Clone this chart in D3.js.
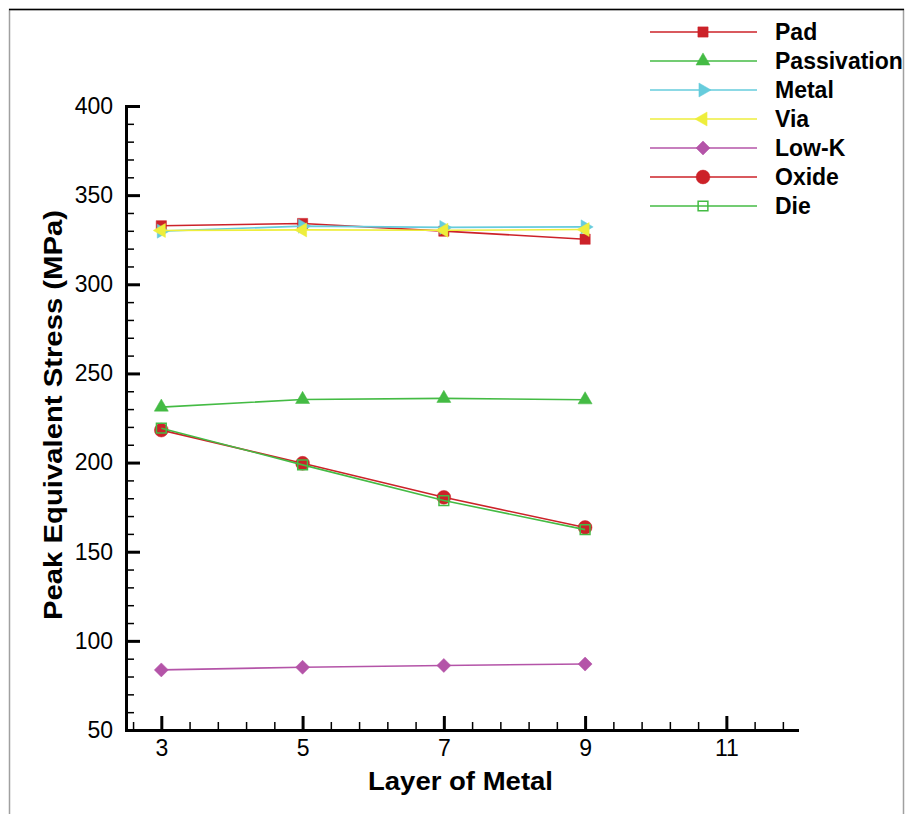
<!DOCTYPE html>
<html>
<head>
<meta charset="utf-8">
<script src="https://cdn.jsdelivr.net/npm/d3@7"></script>
<style>
  body { margin: 0; background: #fff; }
  svg { display: block; }
</style>
</head>
<body>
<script>
// Data
const layers = [3, 5, 7, 9];
const seriesNames = ["Pad", "Passivation", "Metal", "Via", "Low-K", "Oxide", "Die"];
const pad = [332.8, 334.1, 329.8, 325.3];
const passivation = [231.1, 235.4, 236.0, 235.2];
const metal = [329.8, 332.6, 331.9, 332.2];
const via = [330.2, 330.5, 330.3, 330.7];
const lowK = [83.7, 85.2, 86.2, 87.0];
const oxide = [218.2, 199.6, 180.5, 163.6];
const die = [219.3, 198.7, 178.7, 162.4];
const xMajorTicks = [3, 5, 7, 9, 11];
const yMajorTicks = [50, 100, 150, 200, 250, 300, 350, 400];

const width = 905;
const height = 814;
const font = "'Liberation Sans', Arial, Helvetica, sans-serif";

const styles = [
  { color: "#cc2229", symbol: d3.symbolSquare, size: 105, rotate: 0, fill: true },
  { color: "#44bb44", symbol: d3.symbolTriangle, size: 85, rotate: 0, fill: true },
  { color: "#66ccdc", symbol: d3.symbolTriangle, size: 85, rotate: 90, fill: true },
  { color: "#eeee3c", symbol: d3.symbolTriangle, size: 85, rotate: -90, fill: true },
  { color: "#b454a8", symbol: d3.symbolSquare, size: 98, rotate: 45, fill: true },
  { color: "#cc2229", symbol: d3.symbolCircle, size: 150, rotate: 0, fill: true },
  { color: "#44bb44", symbol: d3.symbolSquare, size: 95, rotate: 0, fill: false }
];
const allValues = [pad, passivation, metal, via, lowK, oxide, die];
const series = seriesNames.map((name, i) => ({
  name,
  values: layers.map((l, j) => ({ x: l, y: allValues[i][j] })),
  ...styles[i]
}));

// Scales
const xScale = d3.scaleLinear().domain([2.5, 12]).range([126, 797]);
const yScale = d3.scaleLinear().domain([50, 400]).range([730, 106]);

const xMinor = d3.range(2.6, 12, 0.4).filter((v) => !xMajorTicks.some((m) => Math.abs(m - v) < 1e-6));
const yMinor = d3.range(60, 400, 10).filter((v) => v % 50 !== 0);

const svg = d3
  .select("body")
  .append("svg")
  .attr("width", width)
  .attr("height", height);

// Frame (top, left, right edges)
svg.append("path")
  .attr("d", "M9.5,814V9.5H903.5V814")
  .attr("fill", "none")
  .attr("stroke", "#a0a0a0")
  .attr("stroke-width", 1.5);
svg.append("line")
  .attr("x1", 9).attr("x2", 904)
  .attr("y1", 9.5).attr("y2", 9.5)
  .attr("stroke", "#000")
  .attr("stroke-width", 1.5);

// Minor ticks
svg.append("g")
  .attr("transform", `translate(${xScale.range()[0]},0)`)
  .call(d3.axisLeft(yScale).tickValues(yMinor).tickSize(-8).tickFormat(""))
  .call((g) => g.select(".domain").remove())
  .call((g) => g.selectAll("line").attr("stroke-width", 1.5));
svg.append("g")
  .attr("transform", `translate(0,${yScale.range()[0]})`)
  .call(d3.axisBottom(xScale).tickValues(xMinor).tickSize(-8).tickFormat(""))
  .call((g) => g.select(".domain").remove())
  .call((g) => g.selectAll("line").attr("stroke-width", 1.5));

// Y axis
svg.append("g")
  .attr("transform", `translate(${xScale.range()[0]},0)`)
  .call(d3.axisLeft(yScale).tickValues(yMajorTicks).tickSize(-14).tickSizeOuter(0).tickPadding(13))
  .call((g) => g.select(".domain").attr("stroke-width", 3).attr("stroke-linecap", "square"))
  .call((g) => g.selectAll(".tick line").attr("stroke-width", 3))
  .call((g) => g.selectAll("text").attr("font-family", font).attr("font-size", "23px").attr("fill", "#000"));

// X axis
svg.append("g")
  .attr("transform", `translate(0,${yScale.range()[0]})`)
  .call(d3.axisBottom(xScale).tickValues(xMajorTicks).tickSize(-14).tickSizeOuter(0).tickPadding(10))
  .call((g) => g.select(".domain").attr("stroke-width", 3).attr("stroke-linecap", "square"))
  .call((g) => g.selectAll(".tick line").attr("stroke-width", 3))
  .call((g) => g.selectAll("text").attr("font-family", font).attr("font-size", "23px").attr("fill", "#000"));

// Axis titles
svg.append("text")
  .attr("transform", `translate(${(xScale(2.5) + xScale(12)) / 2 - 1}, 790)`)
  .attr("text-anchor", "middle")
  .attr("font-family", font)
  .attr("font-weight", "bold")
  .attr("font-size", "25px")
  .attr("textLength", 185)
  .attr("lengthAdjust", "spacingAndGlyphs")
  .text("Layer of Metal");

svg.append("text")
  .attr("transform", `translate(62, ${(yScale(400) + yScale(50)) / 2 - 3}) rotate(-90)`)
  .attr("text-anchor", "middle")
  .attr("font-family", font)
  .attr("font-weight", "bold")
  .attr("font-size", "25px")
  .attr("textLength", 410)
  .attr("lengthAdjust", "spacingAndGlyphs")
  .text("Peak Equivalent Stress (MPa)");

// Lines and markers
const line = d3.line().x((d) => xScale(d.x)).y((d) => yScale(d.y));
const markerPath = (s) => d3.symbol(s.symbol).size(s.size)();

const g = svg.append("g").selectAll("g").data(series).join("g");
g.append("path")
  .attr("d", (d) => line(d.values))
  .attr("fill", "none")
  .attr("stroke", (d) => d.color)
  .attr("stroke-width", 1.6);
g.each(function (s) {
  d3.select(this)
    .selectAll("path.marker")
    .data(s.values)
    .join("path")
    .attr("class", "marker")
    .attr("d", markerPath(s))
    .attr("transform", (d) => `translate(${xScale(d.x)},${yScale(d.y)}) rotate(${s.rotate})`)
    .attr("fill", s.fill ? s.color : "none")
    .attr("stroke", s.color)
    .attr("stroke-width", s.fill ? 0.5 : 1.5);
});

// Legend
const legend = svg.append("g")
  .selectAll("g")
  .data(series)
  .join("g")
  .attr("transform", (d, i) => `translate(0, ${32 + i * 29})`);
legend.append("line")
  .attr("x1", 650).attr("x2", 757)
  .attr("stroke", (d) => d.color)
  .attr("stroke-width", 1.6);
legend.append("path")
  .attr("d", (d) => markerPath(d))
  .attr("transform", (d) => `translate(703,0) rotate(${d.rotate})`)
  .attr("fill", (d) => (d.fill ? d.color : "none"))
  .attr("stroke", (d) => d.color)
  .attr("stroke-width", (d) => (d.fill ? 0.5 : 1.5));
legend.append("text")
  .attr("x", 775)
  .attr("dy", "0.36em")
  .attr("font-family", font)
  .attr("font-weight", "bold")
  .attr("font-size", "23px")
  .text((d) => d.name);
</script>
</body>
</html>
